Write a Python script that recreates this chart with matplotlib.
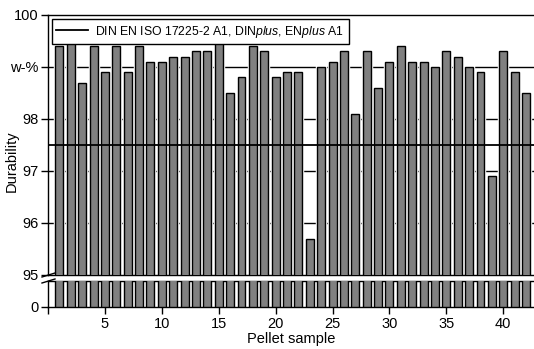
import numpy as np
import matplotlib
matplotlib.use('Agg')
import matplotlib.pyplot as plt
from matplotlib.lines import Line2D

plt.rcParams['font.family'] = ['Liberation Sans', 'DejaVu Sans']
plt.rcParams['mathtext.fontset'] = 'custom'
plt.rcParams['mathtext.rm'] = 'Liberation Sans'
plt.rcParams['mathtext.it'] = 'Liberation Sans:italic'

# Durability per pellet sample (w-%)
samples = np.arange(1, 43)
durability = [99.4, 99.5, 98.7, 99.4, 98.9, 99.4, 98.9, 99.4, 99.1, 99.1,
              99.2, 99.2, 99.3, 99.3, 99.5, 98.5, 98.8, 99.4, 99.3, 98.8,
              98.9, 98.9, 95.7, 99.0, 99.1, 99.3, 98.1, 99.3, 98.6, 99.1,
              99.4, 99.1, 99.1, 99.0, 99.3, 99.2, 99.0, 98.9, 96.9, 99.3,
              98.9, 98.5]
limit = 97.5
limit_label = r'DIN EN ISO 17225-2 A1, DIN$\it{plus}$, EN$\it{plus}$ A1'

yticks = [95, 96, 97, 98, 99, 100]
ytick_labels = ['95', '96', '97', '98', 'w-%', '100']
xticks = [0, 5, 10, 15, 20, 25, 30, 35, 40]
xtick_labels = ['', '5', '10', '15', '20', '25', '30', '35', '40']

W, H = 534, 349
fig = plt.figure(figsize=(W / 100, H / 100), dpi=100)

def px(x0, y0, x1, y1):
    return [x0 / W, 1 - y1 / H, (x1 - x0) / W, (y1 - y0) / H]

ax = fig.add_axes(px(48, 15, 534, 275))
axb = fig.add_axes(px(48, 281, 534, 307))

for a in (ax, axb):
    a.bar(samples, durability, width=0.7, color='#808080', edgecolor='white',
          linewidth=2.5, zorder=2)
    a.bar(samples, durability, width=0.7, color='#808080', edgecolor='black',
          linewidth=1, zorder=3)
    a.set_xlim(0, 42.7)
    a.spines['right'].set_visible(False)
    for s in a.spines.values():
        s.set_linewidth(1)
    a.tick_params(direction='out', length=5, width=1, labelsize=10.5, pad=2)

# top part
ax.set_ylim(95, 100)
ax.set_yticks(yticks)
ax.set_yticklabels(ytick_labels)
ax.set_xticks([])
for g in [96, 97, 98, 99]:
    ax.axhline(g, color='black', linewidth=1, zorder=1)
ax.axhline(limit, color='black', linewidth=1.3, zorder=4, label=limit_label)
leg = ax.legend(loc='upper left', bbox_to_anchor=(0.008, 0.983), fontsize=8.8,
                frameon=True, fancybox=False, edgecolor='black', framealpha=1,
                handlelength=2.6, borderpad=0.35, handletextpad=0.6,
                borderaxespad=0)
leg.get_frame().set_linewidth(1)
leg.set_zorder(5)

# bottom part
axb.set_ylim(0, 1)
axb.set_yticks([0])
axb.set_yticklabels(['0'])
axb.set_xticks(xticks)
axb.set_xticklabels(xtick_labels)
axb.set_xlabel('Pellet sample', fontsize=10.5, labelpad=1)

fig.text(12 / W, 1 - 161 / H, 'Durability', rotation=90, ha='center',
         va='center', fontsize=10.5)

# break marks
for dy in (0, 6):
    fig.add_artist(Line2D([42 / W, 55 / W],
                          [1 - (277 + dy) / H, 1 - (273 + dy) / H],
                          color='black', linewidth=1))

fig.savefig('out.png', dpi=100)
